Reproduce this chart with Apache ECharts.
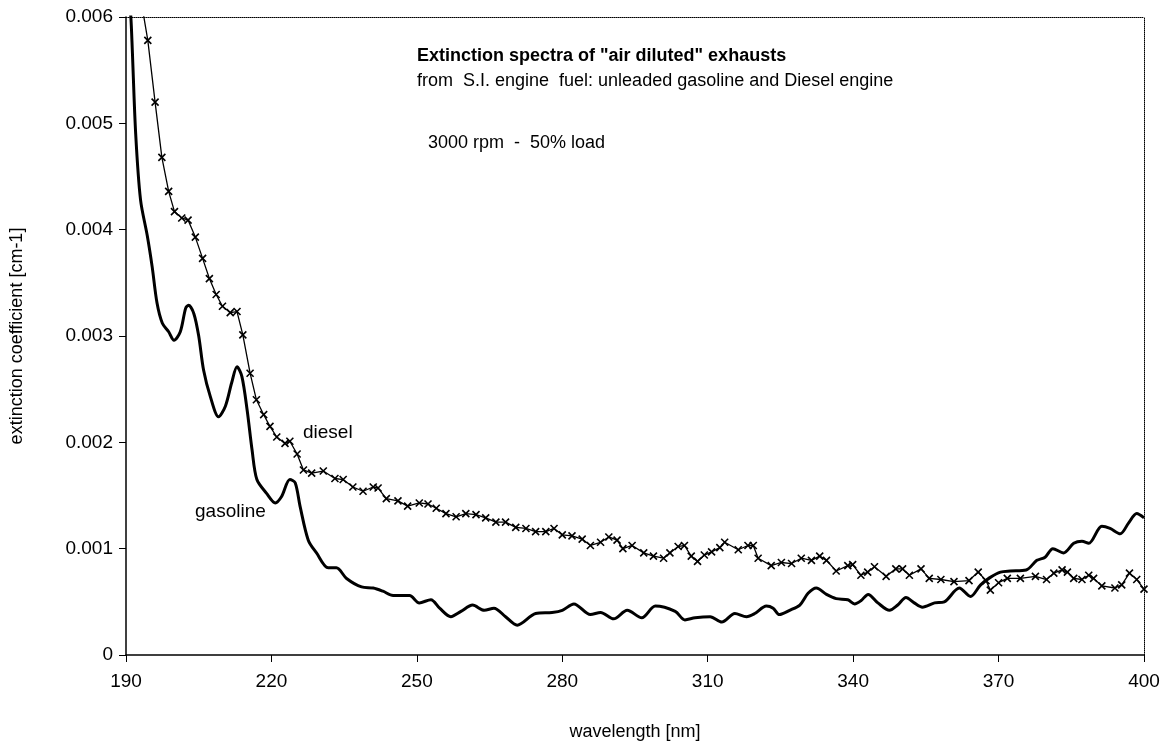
<!DOCTYPE html>
<html>
<head>
<meta charset="utf-8">
<script src="https://cdn.jsdelivr.net/npm/echarts@6/dist/echarts.min.js"></script>
<style>
  html, body { margin: 0; padding: 0; background: #fff; }
  #chart { width: 1166px; height: 751px; }
</style>
</head>
<body>
<div id="chart"></div>
<script>
// wavelength [nm] and extinction [cm-1]
var dieselNm = [193.5, 194.5, 196, 197.4, 198.8, 200, 201.5, 202.8, 204.3, 205.8, 207.2, 208.6, 209.9, 211.5, 212.9, 214.1, 215.6, 216.9, 218.4, 219.7, 221.1, 222.8, 223.8, 225.3, 226.6, 228.3, 230.7, 233.1, 234.8, 236.8, 238.9, 241, 242, 243.7, 246.1, 248.1, 250.5, 252.3, 254, 256, 258.1, 260.1, 262.2, 264.2, 266.3, 268.3, 270.4, 272.5, 274.5, 276.6, 278.3, 280, 282, 284.1, 285.8, 287.9, 289.6, 291.3, 292.5, 294.4, 296.8, 298.8, 300.9, 302.2, 303.9, 305.2, 306.6, 307.9, 309.3, 310.8, 312.5, 313.5, 316.3, 318.3, 319.4, 320.4, 323.1, 325.2, 327.3, 329.3, 331.4, 333.1, 334.5, 336.5, 338.9, 339.9, 341.6, 343, 344.4, 346.8, 348.8, 350.2, 351.6, 354, 355.7, 358.1, 360.8, 363.9, 365.8, 367.4, 368.3, 370, 371.8, 374.5, 377.6, 379.9, 381.4, 383.1, 384.2, 385.5, 387.2, 388.6, 389.6, 391.3, 394, 395.4, 397, 398.5, 400];
var dieselVal = [0.00605, 0.00578, 0.00520, 0.00468, 0.00436, 0.00417, 0.00411, 0.00409, 0.00393, 0.00373, 0.00354, 0.00339, 0.00328, 0.00322, 0.00323, 0.00301, 0.00265, 0.00240, 0.00226, 0.00215, 0.00205, 0.00199, 0.00201, 0.00189, 0.00174, 0.00171, 0.00173, 0.00166, 0.00165, 0.00158, 0.00154, 0.00158, 0.00157, 0.00147, 0.00145, 0.00140, 0.00143, 0.00142, 0.00138, 0.00133, 0.00130, 0.00133, 0.00132, 0.00129, 0.00125, 0.00125, 0.00120, 0.00119, 0.00116, 0.00116, 0.00119, 0.00113, 0.00112, 0.00109, 0.00103, 0.00106, 0.00111, 0.00108, 0.00100, 0.00103, 0.00096, 0.00093, 0.00091, 0.00096, 0.00102, 0.00103, 0.00093, 0.00088, 0.00094, 0.00097, 0.00101, 0.00106, 0.00099, 0.00103, 0.00103, 0.00091, 0.00084, 0.00087, 0.00086, 0.00091, 0.00089, 0.00093, 0.00089, 0.00079, 0.00084, 0.00085, 0.00075, 0.00078, 0.00083, 0.00074, 0.00081, 0.00081, 0.00075, 0.00081, 0.00072, 0.00071, 0.00069, 0.00070, 0.00078, 0.00070, 0.00061, 0.00068, 0.00072, 0.00072, 0.00074, 0.00071, 0.00077, 0.00080, 0.00078, 0.00072, 0.00071, 0.00075, 0.00072, 0.00065, 0.00063, 0.00066, 0.00077, 0.00071, 0.00062];

var gasolineNm = [190, 191, 191.3, 192, 193, 194.4, 195.4, 196.4, 197.5, 198.8, 199.9, 201.2, 202.3, 202.9, 204, 205, 206, 207.4, 209.1, 210.5, 211.8, 212.9, 213.9, 215, 216, 217, 219, 220.8, 222.1, 223.8, 224.9, 225.9, 227.6, 229.3, 231.7, 233.4, 235.5, 238.6, 241, 243, 245.1, 247.1, 248.5, 250.5, 252.9, 254.7, 257, 259.1, 261.5, 263.9, 265.9, 268.3, 270.7, 274.5, 277.9, 280, 282.4, 285.8, 287.9, 290.6, 293.4, 296.4, 299.2, 303.3, 305.3, 307.4, 310.5, 312.9, 315.6, 318, 319.7, 322.1, 323.5, 324.8, 326.9, 329, 330.7, 332.4, 334.5, 336.5, 338.9, 340.3, 341.6, 343.1, 345.1, 347.5, 349.2, 350.9, 352.6, 354.3, 356.8, 358.8, 361.9, 364.2, 366.3, 368.3, 370.4, 372.4, 375.7, 377.9, 379.6, 381.2, 383.4, 385.5, 387.2, 388.6, 391.3, 393, 395.1, 396.8, 398.5, 400];
var gasolineVal = [0.0066, 0.0060, 0.00569, 0.00490, 0.00428, 0.00394, 0.00365, 0.00331, 0.00312, 0.00304, 0.00296, 0.00304, 0.00326, 0.00329, 0.00321, 0.00300, 0.00268, 0.00243, 0.00224, 0.00234, 0.00256, 0.00271, 0.00262, 0.00230, 0.00193, 0.00165, 0.00152, 0.00143, 0.00149, 0.00165, 0.00162, 0.00140, 0.00108, 0.00096, 0.00082, 0.00082, 0.00072, 0.00064, 0.00063, 0.00060, 0.00056, 0.00056, 0.00056, 0.00049, 0.00052, 0.00044, 0.00036, 0.00041, 0.00047, 0.00042, 0.00044, 0.00036, 0.00028, 0.00039, 0.00040, 0.00042, 0.00048, 0.00038, 0.00040, 0.00034, 0.00042, 0.00035, 0.00046, 0.00041, 0.00033, 0.00035, 0.00036, 0.00031, 0.00039, 0.00036, 0.00039, 0.00046, 0.00044, 0.00038, 0.00042, 0.00047, 0.00058, 0.00063, 0.00057, 0.00053, 0.00052, 0.00048, 0.00051, 0.00057, 0.00049, 0.00042, 0.00047, 0.00054, 0.00049, 0.00045, 0.00049, 0.00050, 0.00063, 0.00055, 0.00066, 0.00073, 0.00078, 0.00079, 0.00080, 0.00089, 0.00092, 0.00100, 0.00096, 0.00105, 0.00107, 0.00105, 0.00121, 0.00119, 0.00114, 0.00124, 0.00133, 0.00129];

var xTicks = [190, 220, 250, 280, 310, 340, 370, 400];
var yTicks = [0, 0.001, 0.002, 0.003, 0.004, 0.005, 0.006];

function pairs(xs, ys) {
  return xs.map(function (x, i) { return [x, ys[i]]; });
}

var font = '"Liberation Sans", Arial, sans-serif';
var chart = echarts.init(document.getElementById('chart'));

chart.setOption({
  animation: false,
  backgroundColor: '#fff',
  grid: { left: 122, right: 22, top: 17, bottom: 96 },
  xAxis: [{
    type: 'value',
    min: xTicks[0],
    max: xTicks[xTicks.length - 1],
    interval: 30,
    name: 'wavelength [nm]',
    nameLocation: 'middle',
    nameGap: 68,
    nameTextStyle: { fontFamily: font, fontSize: 18, color: '#000' },
    axisLine: { show: true, lineStyle: { color: '#000', width: 1.5 } },
    axisTick: { show: true, length: 7, lineStyle: { color: '#000' } },
    axisLabel: { fontFamily: font, fontSize: 19, color: '#000', margin: 17 },
    splitLine: { show: false }
  }, {
    type: 'value',
    position: 'top',
    min: xTicks[0],
    max: xTicks[xTicks.length - 1],
    axisLine: { show: true, onZero: false, lineStyle: { color: '#000', width: 1, type: 'dotted' } },
    axisTick: { show: false },
    axisLabel: { show: false },
    splitLine: { show: false }
  }],
  yAxis: [{
    type: 'value',
    min: yTicks[0],
    max: yTicks[yTicks.length - 1],
    interval: 0.001,
    name: 'extinction coefficient [cm-1]',
    nameLocation: 'middle',
    nameGap: 100,
    nameTextStyle: { fontFamily: font, fontSize: 18, color: '#000' },
    axisLine: { show: true, lineStyle: { color: '#000', width: 1.5 } },
    axisTick: { show: true, length: 7, lineStyle: { color: '#000' } },
    axisLabel: {
      fontFamily: font, fontSize: 19, color: '#000', margin: 13,
      formatter: function (v) { return v === 0 ? '0' : v.toFixed(3); }
    },
    splitLine: { show: false }
  }, {
    type: 'value',
    position: 'right',
    min: yTicks[0],
    max: yTicks[yTicks.length - 1],
    axisLine: { show: true, onZero: false, lineStyle: { color: '#000', width: 1, type: 'dotted' } },
    axisTick: { show: false },
    axisLabel: { show: false },
    splitLine: { show: false }
  }],
  series: [{
    name: 'gasoline',
    type: 'line',
    data: pairs(gasolineNm, gasolineVal),
    smooth: 0.3,
    showSymbol: false,
    clip: true,
    lineStyle: { color: '#000', width: 3 }
  }, {
    name: 'diesel',
    type: 'line',
    data: pairs(dieselNm, dieselVal),
    clip: true,
    showAllSymbol: true,
    symbol: 'path://M0,0L10,10M10,0L0,10',
    symbolSize: 7,
    lineStyle: { color: '#000', width: 1.3 },
    itemStyle: { color: '#000', borderColor: '#000', borderWidth: 1.6 }
  }],
  graphic: [
    { type: 'text', left: 417, top: 47, style: { text: 'Extinction spectra of "air diluted" exhausts', font: 'bold 18px ' + font, fill: '#000' } },
    { type: 'text', left: 417, top: 72, style: { text: 'from  S.I. engine  fuel: unleaded gasoline and Diesel engine', font: '18px ' + font, fill: '#000' } },
    { type: 'text', left: 428, top: 134, style: { text: '3000 rpm  -  50% load', font: '18px ' + font, fill: '#000' } },
    { type: 'text', left: 303, top: 423, style: { text: 'diesel', font: '19px ' + font, fill: '#000' } },
    { type: 'text', left: 195, top: 502, style: { text: 'gasoline', font: '19px ' + font, fill: '#000' } }
  ]
});
</script>
</body>
</html>
